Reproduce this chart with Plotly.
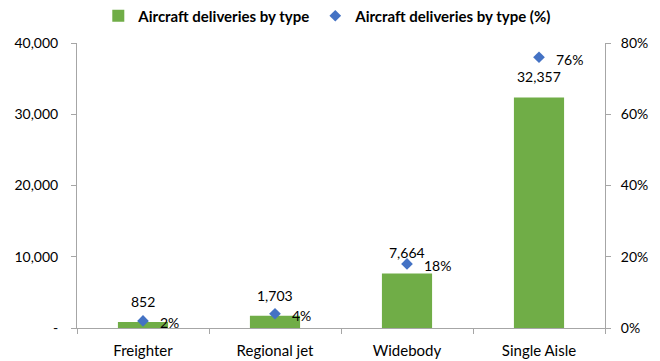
import plotly.graph_objects as go

categories = ["Freighter", "Regional jet", "Widebody", "Single Aisle"]
deliveries = [852, 1703, 7664, 32357]
share = [0.02, 0.04, 0.18, 0.76]
bar_labels = ["852", "1,703", "7,664", "32,357"]
share_labels = ["2%", "4%", "18%", "76%"]
left_tickvals = [0, 10000, 20000, 30000, 40000]
left_ticktext = ["-", "10,000", "20,000", "30,000", "40,000"]

FONT = "Lato, Calibri, Carlito, sans-serif"
GREEN = "#70AD47"
BLUE = "#4472C4"
AXIS = "#a6a6a6"

fig = go.Figure()
fig.add_trace(go.Bar(
    x=categories, y=deliveries, name="Aircraft deliveries by type",
    marker=dict(color=GREEN, line=dict(width=0)), width=0.38, yaxis="y",
))
fig.add_trace(go.Scatter(
    x=categories, y=share, name="Aircraft deliveries by type (%)",
    mode="markers", marker=dict(symbol="diamond", color=BLUE, size=9),
    yaxis="y2",
))

annotations = []
for c, v, t in zip(categories, deliveries, bar_labels):
    annotations.append(dict(x=c, y=v, xref="x", yref="y", text=t, showarrow=False,
                            yanchor="bottom", yshift=10,
                            font=dict(family=FONT, size=14, color="#000")))
for c, v, t in zip(categories, share, share_labels):
    annotations.append(dict(x=c, y=v, xref="x", yref="y2", text=t, showarrow=False,
                            xanchor="left", xshift=15, yshift=-2,
                            font=dict(family=FONT, size=14, color="#000")))

fig.update_layout(
    width=660, height=361,
    margin=dict(l=77, r=55, t=43, b=33, autoexpand=False),
    paper_bgcolor="white", plot_bgcolor="white",
    font=dict(family=FONT, size=14, color="#000"),
    showlegend=True,
    legend=dict(orientation="h", x=0.475, xanchor="center",
                y=(285 + 27) / 285, yanchor="middle",
                font=dict(family=FONT, size=15, color="#000", weight="bold"),
                itemwidth=30, tracegroupgap=0),
    xaxis=dict(showline=True, linecolor=AXIS, linewidth=1, ticks="outside",
               tickson="boundaries", ticklen=5, tickcolor=AXIS, automargin=False,
               showgrid=False, zeroline=False, ticklabelstandoff=9,
               tickfont=dict(family=FONT, size=15, color="#000")),
    yaxis=dict(range=[0, 40000], tickvals=left_tickvals, ticktext=left_ticktext,
               showline=True, linecolor=AXIS, ticks="outside", ticklen=5, tickcolor=AXIS,
               showgrid=False, zeroline=False, ticklabelstandoff=10, automargin=False,
               tickfont=dict(family=FONT, size=14, color="#000")),
    yaxis2=dict(range=[0, 0.8], dtick=0.2, tickformat=".0%", overlaying="y", side="right",
                showline=True, linecolor=AXIS, ticks="outside", ticklen=5, tickcolor=AXIS,
                showgrid=False, zeroline=False, ticklabelstandoff=7, automargin=False,
                tickfont=dict(family=FONT, size=14, color="#000")),
    annotations=annotations,
)

fig.write_html("out.html")
